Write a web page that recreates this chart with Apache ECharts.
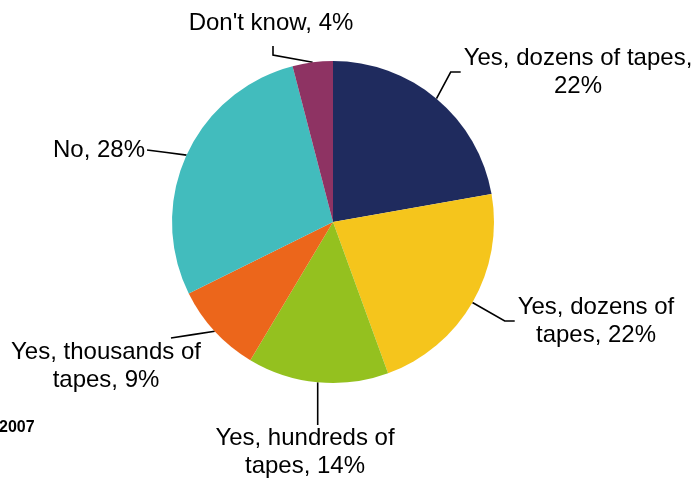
<!DOCTYPE html>
<html>
<head>
<meta charset="utf-8">
<script src="https://cdn.jsdelivr.net/npm/echarts@6/dist/echarts.min.js"></script>
<style>
  html, body { margin: 0; padding: 0; background: #ffffff; }
  #chart { width: 692px; height: 479px; }
</style>
</head>
<body>
<div id="chart"></div>
<script>
// Survey answers, clockwise from 12 o'clock
const categories = [
  'Yes, dozens of tapes',
  'Yes, dozens of tapes',
  'Yes, hundreds of tapes',
  'Yes, thousands of tapes',
  'No',
  "Don't know"
];
const shares = [22, 22, 14, 9, 28, 4];
const sliceColors = ['#1f2b5e', '#f5c51c', '#94c11f', '#ec661b', '#42bcbd', '#8e3363'];

// Where each label block sits (centre, px) and how wide it may wrap
const labelCentres = [[578, 72], [596, 321], [305, 452], [106, 366], [99, 150], [271, 23]];
const labelWidths = [240, 170, 190, 205, 200, 200];
// Which side of the label its leader line meets, plus the short elbow length
const labelLinks = [
  { side: 'left', elbow: 10 },
  { side: 'left', elbow: 10 },
  { side: 'top', elbow: 0 },
  { side: 'topRight', elbow: 0 },
  { side: 'right', elbow: 0 },
  { side: 'bottom', elbow: 9 }
];

const LABEL_FONT = '24px "Liberation Sans", Arial, sans-serif';
const LINE_H = 28;
const measureCtx = document.createElement('canvas').getContext('2d');
measureCtx.font = LABEL_FONT;

// Greedy word wrap so the block width is known for the leader lines
function wrapLines(text, maxWidth) {
  const words = text.split(' ');
  const lines = [];
  let cur = '';
  words.forEach(w => {
    const trial = cur ? cur + ' ' + w : w;
    if (cur && measureCtx.measureText(trial).width > maxWidth) {
      lines.push(cur);
      cur = w;
    } else {
      cur = trial;
    }
  });
  if (cur) lines.push(cur);
  return lines;
}
function labelText(i) {
  return categories[i] + ', ' + shares[i] + '%';
}
const labelLines = categories.map((_, i) => wrapLines(labelText(i), labelWidths[i]));
const labelSizes = labelLines.map(ls => [
  Math.max.apply(null, ls.map(l => measureCtx.measureText(l).width)),
  ls.length * LINE_H
]);

function leaderPoints(p) {
  const i = p.dataIndex;
  const cx = labelCentres[i][0], cy = labelCentres[i][1];
  const w = labelSizes[i][0], h = labelSizes[i][1];
  const anchor = p.labelLinePoints ? p.labelLinePoints[0] : [cx, cy];
  const link = labelLinks[i];
  let end, knee;
  if (link.side === 'left') {
    end = [cx - w / 2 - 3, cy];
    knee = [end[0] - link.elbow, end[1]];
  } else if (link.side === 'right') {
    end = [cx + w / 2 + 2, cy];
    knee = [(anchor[0] + end[0]) / 2, (anchor[1] + end[1]) / 2];
  } else if (link.side === 'top') {
    end = [anchor[0], cy - h / 2 + 1];
    knee = [anchor[0], (anchor[1] + end[1]) / 2];
  } else if (link.side === 'topRight') {
    end = [cx + w / 2 - 30, cy - h / 2];
    knee = [(anchor[0] + end[0]) / 2, (anchor[1] + end[1]) / 2];
  } else {
    end = [cx + 2, cy + h / 2 + 9];
    knee = [end[0], end[1] + link.elbow];
  }
  return [anchor, knee, end];
}

const chart = echarts.init(document.getElementById('chart'), null, { renderer: 'canvas' });

chart.setOption({
  backgroundColor: '#ffffff',
  animation: false,
  graphic: [{
    type: 'text',
    left: -1,
    top: 420,
    style: { text: '2007', font: 'bold 16px "Liberation Sans", Arial, sans-serif', fill: '#000000' }
  }],
  series: [{
    type: 'pie',
    center: [333, 222],
    radius: 161,
    startAngle: 90,
    clockwise: true,
    avoidLabelOverlap: false,
    itemStyle: { borderWidth: 0 },
    label: {
      show: true,
      position: 'outside',
      formatter: p => labelLines[p.dataIndex].join('\n'),
      fontFamily: '"Liberation Sans", Arial, sans-serif',
      fontSize: 24,
      lineHeight: LINE_H,
      color: '#000000',
      align: 'center'
    },
    labelLine: {
      show: true,
      length: 10,
      length2: 10,
      minTurnAngle: 0,
      lineStyle: { color: '#000000', width: 1.6 }
    },
    labelLayout: p => ({
      x: labelCentres[p.dataIndex][0],
      y: labelCentres[p.dataIndex][1],
      align: 'center',
      verticalAlign: 'middle',
      labelLinePoints: leaderPoints(p)
    }),
    data: categories.map((name, i) => ({
      name: name,
      value: shares[i],
      itemStyle: { color: sliceColors[i] }
    }))
  }]
});
</script>
</body>
</html>
